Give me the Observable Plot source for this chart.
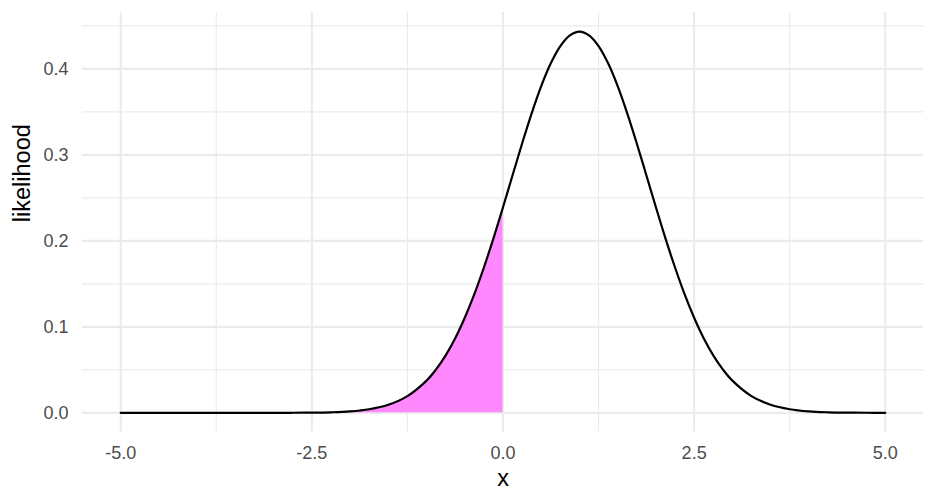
<!DOCTYPE html>
<html>
<head>
<meta charset="utf-8">
<script src="https://cdn.jsdelivr.net/npm/d3@7"></script>
<script src="https://cdn.jsdelivr.net/npm/@observablehq/plot@0.6"></script>
<style>
  html, body { margin: 0; padding: 0; background: #fff; }
  #chart svg { display: block; }
</style>
</head>
<body>
<div id="chart"></div>
<script>
// Values
const xValues = [-5, -4.75, -4.5, -4.25, -4, -3.75, -3.5, -3.25, -3, -2.75, -2.5, -2.25, -2, -1.75, -1.5, -1.25, -1,
  -0.875, -0.75, -0.625, -0.5, -0.375, -0.25, -0.125, 0, 0.125, 0.25, 0.375, 0.5, 0.625, 0.75, 0.875, 1,
  1.125, 1.25, 1.375, 1.5, 1.625, 1.75, 1.875, 2, 2.125, 2.25, 2.375, 2.5, 2.625, 2.75, 2.875, 3,
  3.25, 3.5, 3.75, 4, 4.25, 4.5, 4.75, 5];
const likelihood = [0, 0, 0, 0, 0, 0, 0, 0, 0.00002, 0.00008, 0.00023, 0.00065, 0.0017, 0.0042, 0.0094, 0.0195, 0.0375,
  0.0506, 0.0669, 0.0868, 0.1106, 0.1380, 0.169, 0.2029, 0.2391, 0.2763, 0.3132, 0.3483, 0.3799, 0.4064, 0.4265, 0.4390, 0.4433,
  0.4390, 0.4265, 0.4064, 0.3799, 0.3483, 0.3132, 0.2763, 0.2391, 0.2029, 0.169, 0.1380, 0.1106, 0.0868, 0.0669, 0.0506, 0.0375,
  0.0195, 0.0094, 0.0042, 0.0017, 0.00065, 0.00023, 0.00008, 0];
const shadeUpTo = 0;

const xMajor = [-5, -2.5, 0, 2.5, 5];
const xMinor = [-3.75, -1.25, 1.25, 3.75];
const yMajor = [0, 0.1, 0.2, 0.3, 0.4];
const yMinor = [0.05, 0.15, 0.25, 0.35, 0.45];

const data = xValues.map((x, i) => ({x, y: likelihood[i]}));
const shaded = data.filter(d => d.x <= shadeUpTo);

const font = "'Liberation Sans', Arial, Helvetica, sans-serif";
const gridColor = "#EBEBEB";
const fmt = d => d.toFixed(1);

const chart = Plot.plot({
  width: 936,
  height: 504,
  marginLeft: 82,
  marginRight: 13,
  marginTop: 12,
  marginBottom: 72.6,
  style: {fontFamily: font, background: "#fff", overflow: "visible"},
  x: {domain: [-5.5, 5.5]},
  y: {domain: [-0.02216, 0.4655]},
  marks: [
    Plot.gridX(xMinor, {stroke: gridColor, strokeOpacity: 1, strokeWidth: 1.1}),
    Plot.gridY(yMinor, {stroke: gridColor, strokeOpacity: 1, strokeWidth: 1.1}),
    Plot.gridX(xMajor, {stroke: gridColor, strokeOpacity: 1, strokeWidth: 2.1}),
    Plot.gridY(yMajor, {stroke: gridColor, strokeOpacity: 1, strokeWidth: 2.1}),
    Plot.areaY(shaded, {x: "x", y: "y", fill: "#FF88FF", curve: "catmull-rom"}),
    Plot.lineY(data, {x: "x", y: "y", stroke: "#000", strokeWidth: 2.2, curve: "catmull-rom"}),
    Plot.axisX(xMajor, {tickSize: 0, tickPadding: 14, fontSize: 18, fill: "#4D4D4D", tickFormat: fmt, label: null}),
    Plot.axisY(yMajor, {tickSize: 0, tickPadding: 14, fontSize: 18, fill: "#4D4D4D", tickFormat: fmt, label: null}),
    Plot.text(["x"], {frameAnchor: "bottom", dy: 46.8, lineAnchor: "middle", fontSize: 23.5, fill: "#000"}),
    Plot.text(["likelihood"], {frameAnchor: "left", dx: -60, rotate: -90, lineAnchor: "middle", fontSize: 23.5, fill: "#000"})
  ]
});
document.getElementById("chart").appendChild(chart);
</script>
</body>
</html>
